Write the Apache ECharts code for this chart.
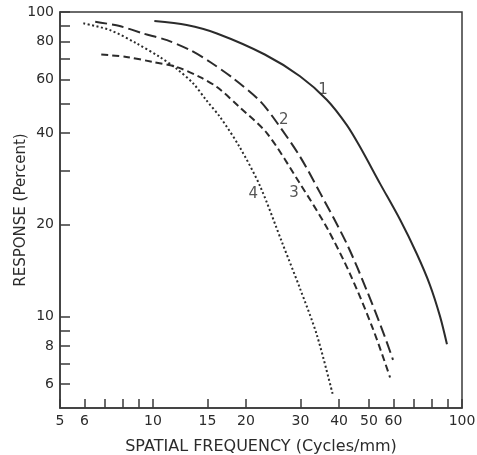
<!DOCTYPE html>
<html>
<head>
<meta charset="utf-8">
<script src="https://cdn.jsdelivr.net/npm/echarts@6/dist/echarts.min.js"></script>
<style>
  html, body { margin: 0; padding: 0; background: #fff; }
  #chart { width: 477px; height: 455px; }
</style>
</head>
<body>
<div id="chart"></div>
<script>
// values (cycles/mm vs percent response)
const freq1 = [10.1, 12.85, 16.1, 23.0, 29.9, 36.5, 42.4, 46.8, 54.3, 63.0, 71.5, 78.7, 84.9, 89.4];
const resp1 = [93.4, 90.6, 85.0, 72.5, 61.5, 51.5, 42.5, 36.0, 27.3, 20.8, 16.0, 12.7, 10.0, 8.1];

const freq2 = [6.5, 7.8, 9.3, 11.1, 13.2, 15.3, 18.2, 22.2, 25.1, 29.9, 34.7, 42.4, 49.3, 55.5, 59.8];
const resp2 = [92.9, 89.9, 85.0, 80.8, 74.9, 68.5, 60.5, 51.0, 43.5, 33.5, 25.5, 17.3, 12.1, 8.9, 7.2];

const freq3 = [6.8, 8.2, 10.0, 11.9, 14.2, 16.1, 19.1, 23.4, 29.9, 36.6, 43.4, 51.5, 58.5];
const resp3 = [72.5, 71.2, 68.5, 66.0, 61.1, 56.7, 48.6, 39.9, 27.3, 19.5, 13.8, 9.1, 6.3];

const freq4 = [5.95, 7.26, 8.86, 10.5, 11.9, 13.5, 14.9, 16.5, 19.1, 22.2, 26.3, 29.9, 33.9, 38.2];
const resp4 = [91.8, 87.2, 78.8, 71.2, 65.2, 58.2, 51.2, 45.1, 35.9, 26.8, 17.25, 12.35, 8.69, 5.52];

// curve numbers written next to the lines
const curveNames = ['1', '2', '3', '4'];
const curveNameFreq = [35.5, 26.5, 28.6, 21.1];
const curveNameResp = [55.3, 44.3, 25.5, 25.3];

const freqTicks = [5, 6, 7, 8, 9, 10, 15, 20, 30, 40, 50, 60, 70, 80, 90, 100];
const freqLabels = [5, 6, 10, 15, 20, 30, 40, 50, 60, 100];
const respTicks = [6, 7, 8, 9, 10, 20, 30, 40, 50, 60, 70, 80, 90, 100];
const respLabels = [6, 8, 10, 20, 40, 60, 80, 100];

const lg = v => Math.log10(v);
const toPoints = (xs, ys) => xs.map((x, i) => [lg(x), lg(ys[i])]);

const ink = '#2b2b2b';
const textStyle = { color: ink, fontFamily: 'DejaVu Sans', fontSize: 14 };

const lineSeries = (data, dash) => ({
  type: 'line',
  data,
  smooth: 0.3,
  showSymbol: false,
  silent: true,
  lineStyle: { color: ink, width: 2, type: dash, cap: 'butt' }
});

const chart = echarts.init(document.getElementById('chart'));

chart.setOption({
  backgroundColor: '#fff',
  animation: false,
  grid: {
    left: 60, right: 15, top: 12, bottom: 47,
    outerBoundsMode: 'none',
    show: true, borderColor: '#3a3a3a', borderWidth: 1.5
  },
  xAxis: {
    type: 'value',
    min: lg(5),
    max: 2,
    name: 'SPATIAL FREQUENCY (Cycles/mm)',
    nameLocation: 'middle',
    nameGap: 31,
    nameMoveOverlap: false,
    nameTextStyle: { ...textStyle, fontSize: 16 },
    splitLine: { show: false },
    axisLine: { show: true, lineStyle: { color: '#3a3a3a', width: 1.5 } },
    axisTick: { show: true, inside: true, length: 9, customValues: freqTicks.map(lg), lineStyle: { color: '#3a3a3a', width: 1.5 } },
    axisLabel: { ...textStyle, margin: 6, customValues: freqLabels.map(lg), hideOverlap: false, formatter: v => Math.round(Math.pow(10, v)) }
  },
  yAxis: {
    type: 'value',
    min: lg(5),
    max: 2,
    name: 'RESPONSE (Percent)',
    nameLocation: 'middle',
    nameGap: 31,
    nameMoveOverlap: false,
    nameTextStyle: { ...textStyle, fontSize: 15 },
    splitLine: { show: false },
    axisLine: { show: true, lineStyle: { color: '#3a3a3a', width: 1.5 } },
    axisTick: { show: true, inside: true, length: 10, customValues: respTicks.map(lg), lineStyle: { color: '#3a3a3a', width: 1.5 } },
    axisLabel: { ...textStyle, margin: 6, customValues: respLabels.map(lg), hideOverlap: false, formatter: v => Math.round(Math.pow(10, v)) }
  },
  series: [
    lineSeries(toPoints(freq1, resp1), 'solid'),
    lineSeries(toPoints(freq2, resp2), [12, 5]),
    lineSeries(toPoints(freq3, resp3), [7, 4]),
    lineSeries(toPoints(freq4, resp4), [2, 2.5]),
    {
      type: 'scatter',
      silent: true,
      symbolSize: 0,
      data: curveNames.map((n, i) => ({ value: [lg(curveNameFreq[i]), lg(curveNameResp[i])], name: n })),
      label: {
        show: true, position: [0, 0], align: 'center', verticalAlign: 'middle',
        formatter: p => p.name, ...textStyle, fontSize: 15
      }
    }
  ]
});
</script>
</body>
</html>
